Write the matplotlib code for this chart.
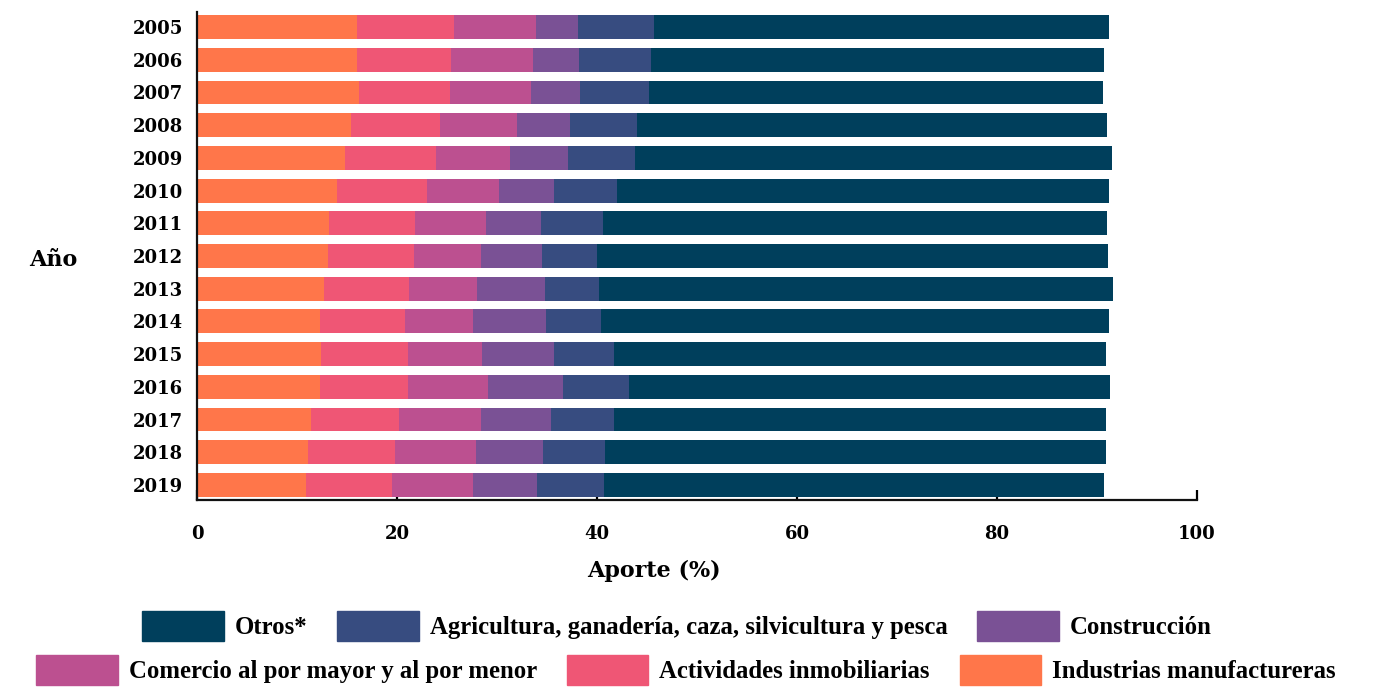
import numpy as np
import matplotlib
matplotlib.use("Agg")
import matplotlib.pyplot as plt
from matplotlib.patches import Patch

# Aporte (%) por sector, 2005-2019
years = ["2005", "2006", "2007", "2008", "2009", "2010", "2011", "2012",
         "2013", "2014", "2015", "2016", "2017", "2018", "2019"]
industrias = [16.0, 16.0, 16.2, 15.4, 14.8, 14.0, 13.2, 13.1, 12.7, 12.3, 12.4, 12.3, 11.4, 11.1, 10.9]
actividades = [9.7, 9.4, 9.1, 8.9, 9.1, 9.0, 8.6, 8.6, 8.5, 8.5, 8.7, 8.8, 8.8, 8.7, 8.6]
comercio = [8.2, 8.2, 8.1, 7.7, 7.4, 7.2, 7.1, 6.7, 6.8, 6.8, 7.4, 8.0, 8.2, 8.1, 8.1]
construccion = [4.2, 4.6, 4.9, 5.3, 5.8, 5.5, 5.5, 6.1, 6.8, 7.3, 7.2, 7.5, 7.0, 6.7, 6.4]
agricultura = [7.6, 7.2, 6.9, 6.7, 6.7, 6.3, 6.2, 5.5, 5.4, 5.5, 6.0, 6.6, 6.3, 6.2, 6.7]
otros = [45.5, 45.3, 45.4, 47.0, 47.7, 49.2, 50.4, 51.1, 51.4, 50.8, 49.2, 48.1, 49.2, 50.1, 50.0]

series = [
    ("Industrias manufactureras", industrias, "#ff764a"),
    ("Actividades inmobiliarias", actividades, "#ef5675"),
    ("Comercio al por mayor y al por menor", comercio, "#bc5090"),
    ("Construcción", construccion, "#7a5195"),
    ("Agricultura, ganadería, caza, silvicultura y pesca", agricultura, "#374c80"),
    ("Otros*", otros, "#003f5c"),
]

tick_font = "DejaVu Serif"
leg_font = "Liberation Serif"

fig = plt.figure(figsize=(13.82, 6.87), dpi=100)
ax = fig.add_axes([197 / 1382, 1 - 500 / 687, 1000 / 1382, 488 / 687])

pos = np.arange(len(years))
left = np.zeros(len(years))
for name, vals, col in series:
    ax.barh(pos, vals, left=left, height=0.73, color=col, label=name)
    left += np.array(vals)

ax.set_xlim(0, 100)
ax.set_ylim(len(years) - 0.54, -0.46)
ax.set_yticks(pos)
ax.set_yticklabels(years)
ax.set_xticks([0, 20, 40, 60, 80, 100])
ax.set_axisbelow(True)

for s in ["top", "right"]:
    ax.spines[s].set_visible(False)
for s in ["left", "bottom"]:
    ax.spines[s].set_linewidth(1.6)
    ax.spines[s].set_color("#111111")

ax.tick_params(axis="y", length=0, pad=10)
ax.tick_params(axis="x", direction="in", length=7, width=1.6, pad=18)
for lab in ax.get_xticklabels():
    lab.set_fontfamily(tick_font)
    lab.set_fontweight("bold")
    lab.set_fontsize(13)
for lab in ax.get_yticklabels():
    lab.set_fontfamily(tick_font)
    lab.set_fontweight("bold")
    lab.set_fontsize(13)

ax.set_xlabel("Aporte (%)", fontfamily=tick_font, fontweight="bold", fontsize=16)
ax.xaxis.set_label_coords((654 - 197) / 1000, -(560 - 500) / 488)
ax.text((53 - 197) / 1000, (500 - 260) / 488, "Año", transform=ax.transAxes,
        ha="center", va="center", fontfamily=tick_font, fontweight="bold", fontsize=16)

handles = {name: Patch(color=col) for name, vals, col in series}
row1 = ["Otros*", "Agricultura, ganadería, caza, silvicultura y pesca", "Construcción"]
row2 = ["Comercio al por mayor y al por menor", "Actividades inmobiliarias", "Industrias manufactureras"]
leg_kw = dict(ncol=3, frameon=False, loc="center", handlelength=3.3, handleheight=1.5,
              handletextpad=0.45, columnspacing=1.2,
              prop={"family": leg_font, "weight": "bold", "size": 17.8})
l1 = fig.legend([handles[n] for n in row1], row1, bbox_to_anchor=(677 / 1382, 1 - 626 / 687), **leg_kw)
l2 = fig.legend([handles[n] for n in row2], row2, bbox_to_anchor=(686 / 1382, 1 - 670 / 687), **leg_kw)

fig.savefig("out.png", dpi=100)
